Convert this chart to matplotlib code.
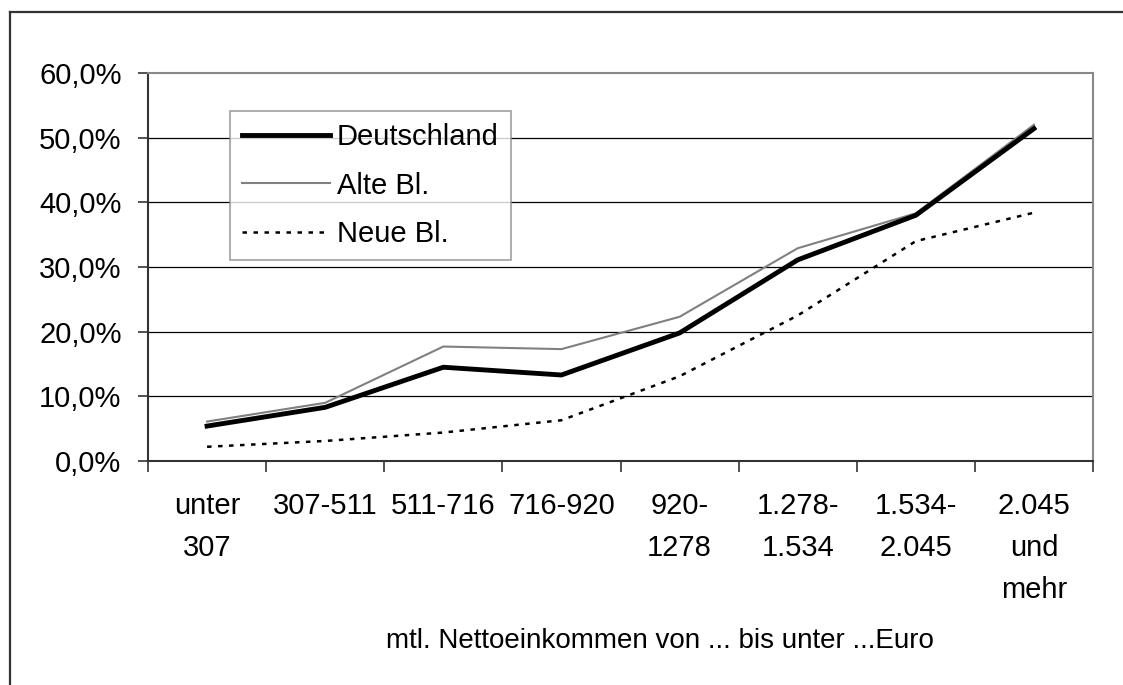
import matplotlib
matplotlib.use("Agg")
import matplotlib.pyplot as plt
from matplotlib.lines import Line2D

plt.rcParams['font.family'] = ['Liberation Sans', 'DejaVu Sans']

categories = ["unter\n307", "307-511", "511-716", "716-920", "920-\n1278",
              "1.278-\n1.534", "1.534-\n2.045", "2.045\nund\nmehr"]
deutschland = [5.4, 8.3, 14.5, 13.3, 19.8, 31.1, 38.0, 51.4]
alte_bl = [6.1, 9.0, 17.7, 17.3, 22.3, 32.9, 38.3, 52.0]
neue_bl = [2.2, 3.1, 4.4, 6.3, 13.1, 22.5, 34.0, 38.4]
y_ticks = [0, 10, 20, 30, 40, 50, 60]
x_title = "mtl. Nettoeinkommen von ... bis unter ...Euro"

FS = 21
W, H = 1123, 685
fig = plt.figure(figsize=(W / 100, H / 100), dpi=100)
ax = fig.add_axes([148 / W, 1 - 461 / H, (1093 - 148) / W, (461 - 73) / H])

x = list(range(len(categories)))
ax.plot(x, alte_bl, color="#808080", lw=1.5, zorder=3)
ax.plot(x, deutschland, color="black", lw=3.5, zorder=4)
ax.plot(x, neue_bl, color="black", lw=1.8, dashes=(1.8, 2.6), zorder=3)

ax.set_xlim(-0.5, len(categories) - 0.5)
ax.set_ylim(0, 60)
ax.set_yticks(y_ticks)
ax.set_yticklabels([f"{v:.1f}%".replace(".", ",") for v in y_ticks], fontsize=FS)
for v in y_ticks[1:-1]:
    ax.axhline(v, color="black", lw=0.9, zorder=1)

ax.set_xticks([i - 0.5 for i in range(len(categories) + 1)])
ax.set_xticklabels([])
ax.set_xticks(x, minor=True)
ax.set_xticklabels(categories, minor=True, fontsize=FS, linespacing=1.64,
                   va="top")
ax.tick_params(axis="x", which="minor", length=0, pad=22)
ax.tick_params(axis="x", which="major", length=8, width=1.2, color="#333333",
               direction="out")
ax.tick_params(axis="y", length=7, width=1.2, color="#333333", pad=12,
               direction="out")

for side in ("left", "bottom"):
    ax.spines[side].set_color("#333333")
    ax.spines[side].set_linewidth(1.5)
for side in ("top", "right"):
    ax.spines[side].set_color("#888888")
    ax.spines[side].set_linewidth(1.5)

handles = [Line2D([], [], color="black", lw=3.5),
           Line2D([], [], color="#808080", lw=1.5),
           Line2D([], [], color="black", lw=1.8, dashes=(1.8, 2.6))]
leg = ax.legend(handles, ["Deutschland", "Alte Bl.", "Neue Bl."],
                loc="upper left", bbox_to_anchor=((230 - 148) / 945, (461 - 111) / 388),
                fontsize=FS, frameon=True, fancybox=False, borderaxespad=0,
                handlelength=3.0, handletextpad=0.25, labelspacing=0.7,
                borderpad=0.42)
leg.get_frame().set_edgecolor("#888888")
leg.get_frame().set_linewidth(1.2)
leg.set_zorder(5)

fig.text(660 / W, 1 - 641 / H, x_title, fontsize=20, ha="center", va="center")

# outer frame of the chart area
fig.add_artist(Line2D([10 / W, 10 / W], [0, 1 - 12 / H], color="#333333", lw=1.6,
                      transform=fig.transFigure))
fig.add_artist(Line2D([10 / W, 1], [1 - 12 / H, 1 - 12 / H], color="#333333", lw=1.6,
                      transform=fig.transFigure))

fig.savefig("out.png", dpi=100)
